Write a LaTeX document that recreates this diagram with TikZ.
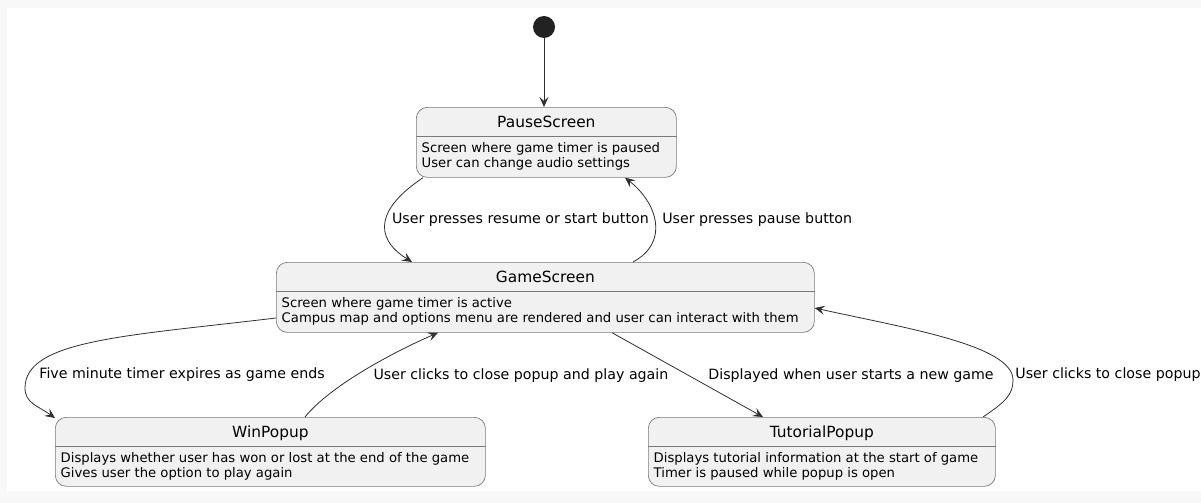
\documentclass[tikz,border=0pt]{standalone}
\usepackage{fontspec}
\setmainfont{DejaVu Sans}
\usetikzlibrary{arrows.meta, positioning}

\definecolor{stateFill}{HTML}{F1F1F1}
\definecolor{stateLine}{HTML}{7A7A7A}
\definecolor{arrowLine}{HTML}{303030}
\definecolor{startFill}{HTML}{222222}
\definecolor{pageGray}{HTML}{F8F8F8}

\newcommand{\bodyfont}{\fontsize{13.2}{15}\selectfont}
\newcommand{\labelfont}{\fontsize{14.2}{16}\selectfont}
\newcommand{\titlefont}{\fontsize{15.4}{18}\selectfont}

\tikzset{
  statebox/.style={draw=stateLine, fill=stateFill, line width=0.7pt, rounded corners=11pt, anchor=north west, inner sep=0pt},
  statetitle/.style={font=\titlefont, inner sep=0pt, anchor=base},
  statebody/.style={font=\bodyfont, align=left, inner xsep=5.5pt, inner ysep=6.5pt, anchor=north west},
  transition/.style={draw=arrowLine, line width=0.8pt, -{Stealth[length=10pt, width=9pt, inset=4pt]}},
  edgelabel/.style={font=\labelfont, inner sep=0pt, anchor=west},
}

% state box: name, x, y, width, height, title, body
\newcommand{\umlstate}[7]{%
  \node[statebox, minimum width=#4, minimum height=#5] (#1) at (#2,#3) {};
  \node[statetitle] (#1-title) at ([yshift=-20]#1.north) {#6};
  \draw[draw=stateLine, line width=0.7pt] ([yshift=-29]#1.north west) -- ([yshift=-29]#1.north east);
  \node[statebody] (#1-body) at ([yshift=-29]#1.north west) {#7};
}

\begin{document}
\begin{tikzpicture}[x=1pt, y=1pt]
  % page
  \fill[pageGray] (0,0) rectangle (1201,-503);
  \fill[white] (7,-8) rectangle (1201,-491);
  \useasboundingbox (0,0) rectangle (1201,-503);

  % States
  \node[circle, fill=startFill, minimum size=22pt, inner sep=0pt] (start) at (544,-27) {};
  \umlstate{pause}{416}{-107}{260}{70}{PauseScreen}{Screen where game timer is paused\\User can change audio settings}
  \umlstate{game}{276}{-262}{538}{70}{GameScreen}{Screen where game timer is active\\Campus map and options menu are rendered and user can interact with them}
  \umlstate{win}{55}{-417}{430}{69}{WinPopup}{Displays whether user has won or lost at the end of the game\\Gives user the option to play again}
  \umlstate{tut}{648}{-417}{347}{69}{TutorialPopup}{Displays tutorial information at the start of game\\Timer is paused while popup is open}

  % Bends
  \coordinate (fiveBend) at (25,-388);
  \coordinate (closeBend) at (1013,-380);

  % Transitions
  \draw[transition] (start) -- (start |- pause.north);
  \draw[transition] ([xshift=7]pause.south west) .. controls +(-45,-30) and +(-40,25) .. ([xshift=136]game.north west)
    node[edgelabel, pos=0.5, xshift=6, yshift=2] {User presses resume or start button};
  \draw[transition] ([xshift=357]game.north west) .. controls +(37,20) and +(32,-25) .. ([xshift=209]pause.south west)
    node[edgelabel, pos=0.5, xshift=7, yshift=2] {User presses pause button};
  \draw[transition] ([yshift=-56]game.north west) .. controls +(-150,-18) and +(0,48) .. (fiveBend)
    node[edgelabel, xshift=14, yshift=13] {Five minute timer expires as game ends}
    .. controls +(0,-15) and +(-17,12) .. ([yshift=-1]win.north west);
  \draw[transition] ([xshift=250]win.north west) .. controls +(25,31) and +(-46,-20) .. ([xshift=162]game.south west)
    node[edgelabel, pos=0.5, xshift=9.5, yshift=-4.5] {User clicks to close popup and play again};
  \draw[transition] ([xshift=336]game.south west) -- ([xshift=115]tut.north west)
    node[edgelabel, pos=0.5, xshift=20.5, yshift=-0.5] {Displayed when user starts a new game};
  \draw[transition] ([xshift=335]tut.north west) .. controls +(22,15) and +(0,-15) .. (closeBend)
    node[edgelabel, xshift=2, yshift=5] {User clicks to close popup}
    .. controls +(0,35) and +(90,-20) .. ([yshift=-46]game.north east);
\end{tikzpicture}
\end{document}
